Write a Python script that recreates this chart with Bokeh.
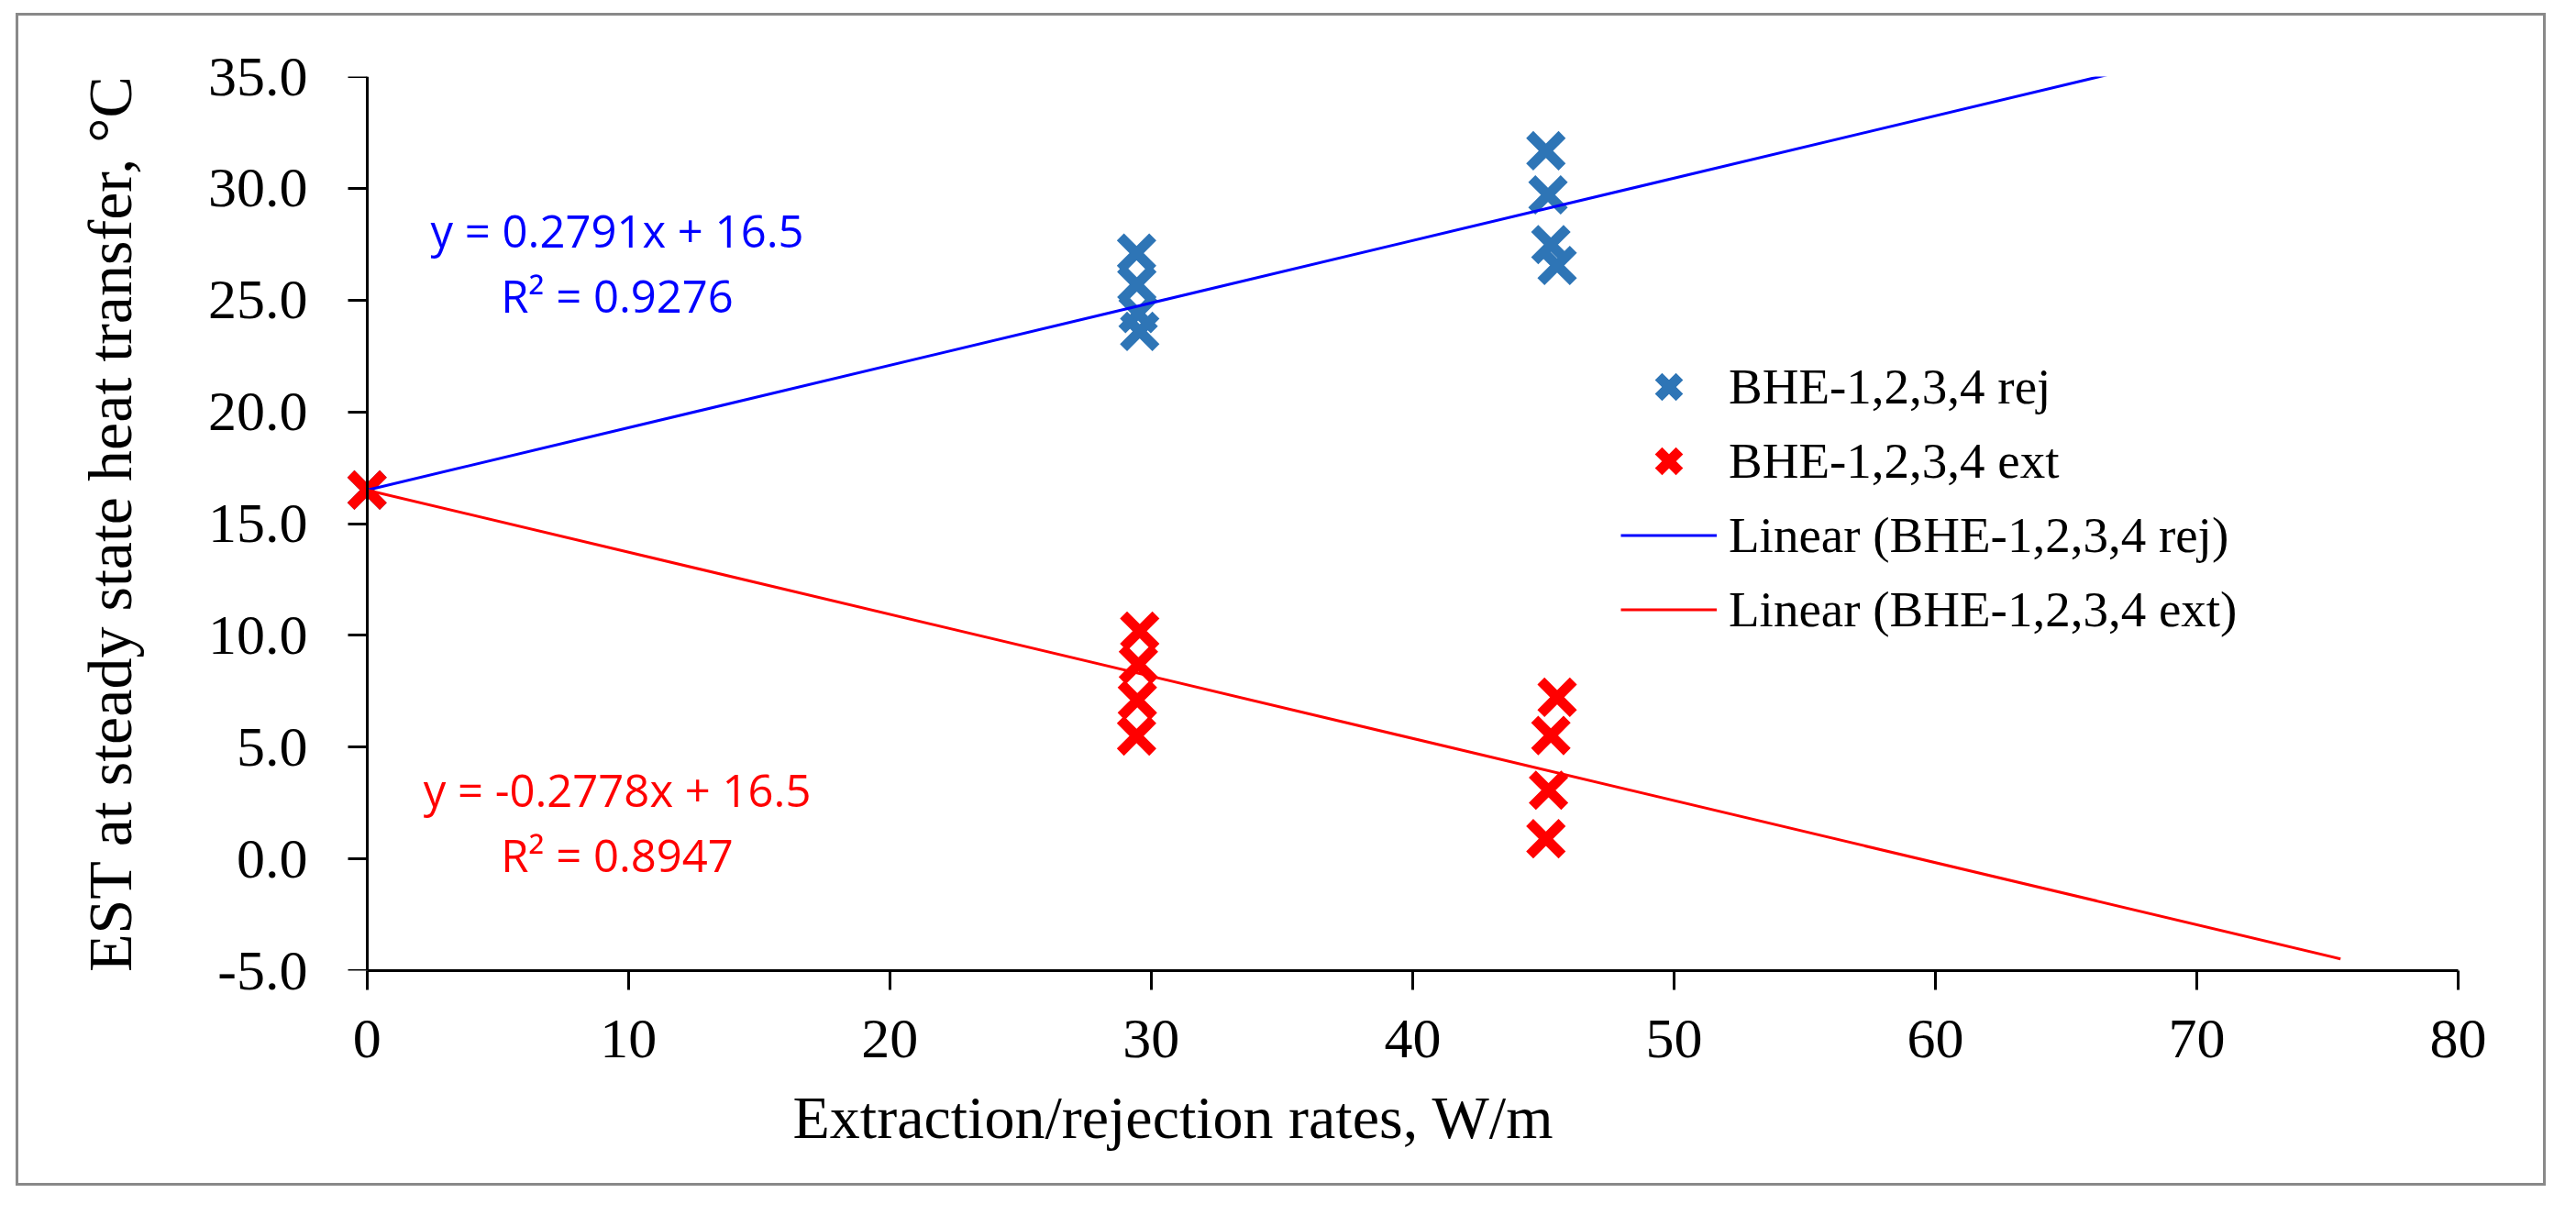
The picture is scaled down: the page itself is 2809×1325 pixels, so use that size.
from bokeh.plotting import figure
from bokeh.models import (Legend, LegendItem, Label, FixedTicker, PrintfTickFormatter, Title,
                          LinearAxis, CustomJSTickFormatter)
from bokeh.embed import file_html
from bokeh.resources import INLINE

# ---- data ----
rej_x = [0.0, 29.44, 29.45, 29.50, 29.56, 45.10, 45.18, 45.29, 45.53]
rej_y = [16.5, 27.10, 25.70, 24.40, 23.60, 31.68, 29.71, 27.48, 26.55]
ext_x = [0.0, 29.56, 29.51, 29.47, 29.44, 45.53, 45.29, 45.20, 45.10]
ext_y = [16.5, 10.19, 8.70, 7.10, 5.50, 7.23, 5.52, 3.07, 0.90]

# trendlines (Excel equations shown on the chart, forecast to 75.5)
trend_x = [0.0, 75.5]
rej_slope, rej_icpt = 0.2791, 16.5
ext_slope, ext_icpt = -0.2778, 16.5
rej_trend_y = [rej_slope * x + rej_icpt for x in trend_x]
ext_trend_y = [ext_slope * x + ext_icpt for x in trend_x]

x_ticks = [0, 10, 20, 30, 40, 50, 60, 70, 80]
y_ticks = [-5, 0, 5, 10, 15, 20, 25, 30, 35]

rej_eq = ["y = 0.2791x + 16.5", "R\u00b2 = 0.9276"]
ext_eq = ["y = -0.2778x + 16.5", "R\u00b2 = 0.8947"]

SERIF = "Liberation Serif"
SANS = "Open Sans"
BLUE_MK = "#2E75B6"

p = figure(width=2753, height=1273, x_range=(-1.5, 80), y_range=(-5, 35),
           output_backend="svg", toolbar_location=None,
           min_border_left=337, min_border_right=99,
           min_border_top=66, min_border_bottom=238)
p.margin = (14, 0, 0, 17)
p.styles = {"border": "3px solid #898989", "box-sizing": "content-box"}
p.outline_line_color = None
p.xgrid.visible = False
p.ygrid.visible = False
p.background_fill_color = "white"
p.border_fill_color = "white"

xa = p.xaxis[0]
ya = p.yaxis[0]          # left-panel axis: carries the tick labels and the title
for ax in (xa, ya):
    ax.major_label_text_font = SERIF
    ax.major_label_text_font_size = "62px"
    ax.major_label_text_color = "black"
    ax.minor_tick_out = 0
    ax.minor_tick_in = 0

xa.axis_line_width = 3
xa.axis_line_color = "black"
xa.major_tick_line_width = 3
xa.major_tick_line_color = "black"
xa.major_tick_out = 21
xa.major_tick_in = 0
xa.ticker = FixedTicker(ticks=x_ticks)
xa.bounds = (0, 80)
xa.major_label_standoff = 33

ya.ticker = FixedTicker(ticks=y_ticks)
ya.formatter = PrintfTickFormatter(format="%.1f")
ya.axis_line_color = None
ya.major_tick_line_color = None
ya.major_tick_out = 0
ya.major_tick_in = 0
ya.major_label_standoff = 22
ya.axis_label = "EST at steady state heat transfer, \u00b0C"
ya.axis_label_text_font = SERIF
ya.axis_label_text_font_size = "68px"
ya.axis_label_text_font_style = "normal"
ya.axis_label_text_color = "black"
ya.axis_label_standoff = 66

# y axis line and ticks crossing at x = 0 (so the marker at x = 0 is not cut)
y_line = LinearAxis(fixed_location=0, ticker=FixedTicker(ticks=y_ticks),
                    formatter=CustomJSTickFormatter(code="return ''"),
                    axis_line_width=3, axis_line_color="black",
                    major_tick_line_width=3, major_tick_line_color="black",
                    major_tick_out=21, major_tick_in=0, minor_tick_out=0, minor_tick_in=0,
                    major_label_standoff=0)
p.add_layout(y_line, "left")

# x axis title (left of centre as in the reference)
p.add_layout(Title(text="Extraction/rejection rates, W/m", align="left", offset=507,
                   vertical_align="bottom",
                   text_font=SERIF, text_font_size="66px", text_font_style="normal",
                   text_color="black", standoff=48), "below")

r_rej = p.scatter(rej_x, rej_y, marker="x", size=50, line_width=11, line_color=BLUE_MK)
r_ext = p.scatter(ext_x, ext_y, marker="x", size=50, line_width=11, line_color="#FF0000")
l_rej = p.line(trend_x, rej_trend_y, line_color="#0000FF", line_width=3)
l_ext = p.line(trend_x, ext_trend_y, line_color="#FF0000", line_width=3)

for txt, yy in zip(rej_eq, [28.11, 25.20]):
    p.add_layout(Label(x=9.57, y=yy, text=txt, text_font=SANS, text_font_size="49px",
                       text_color="#0000FF", text_align="center", text_baseline="alphabetic"))
for txt, yy in zip(ext_eq, [3.10, 0.19]):
    p.add_layout(Label(x=9.57, y=yy, text=txt, text_font=SANS, text_font_size="49px",
                       text_color="#FF0000", text_align="center", text_baseline="alphabetic"))

legend = Legend(items=[
    LegendItem(label="BHE-1,2,3,4 rej", renderers=[r_rej]),
    LegendItem(label="BHE-1,2,3,4 ext", renderers=[r_ext]),
    LegendItem(label="Linear (BHE-1,2,3,4 rej)", renderers=[l_rej]),
    LegendItem(label="Linear (BHE-1,2,3,4 ext)", renderers=[l_ext]),
], location=(1410, 353), glyph_width=105, glyph_height=81, spacing=0,
    padding=0, margin=0, label_standoff=13, border_line_color=None,
    background_fill_alpha=0, label_text_font=SERIF, label_text_font_size="55px",
    label_text_color="black")
p.add_layout(legend)

open("out.html", "w").write(file_html(p, INLINE))
